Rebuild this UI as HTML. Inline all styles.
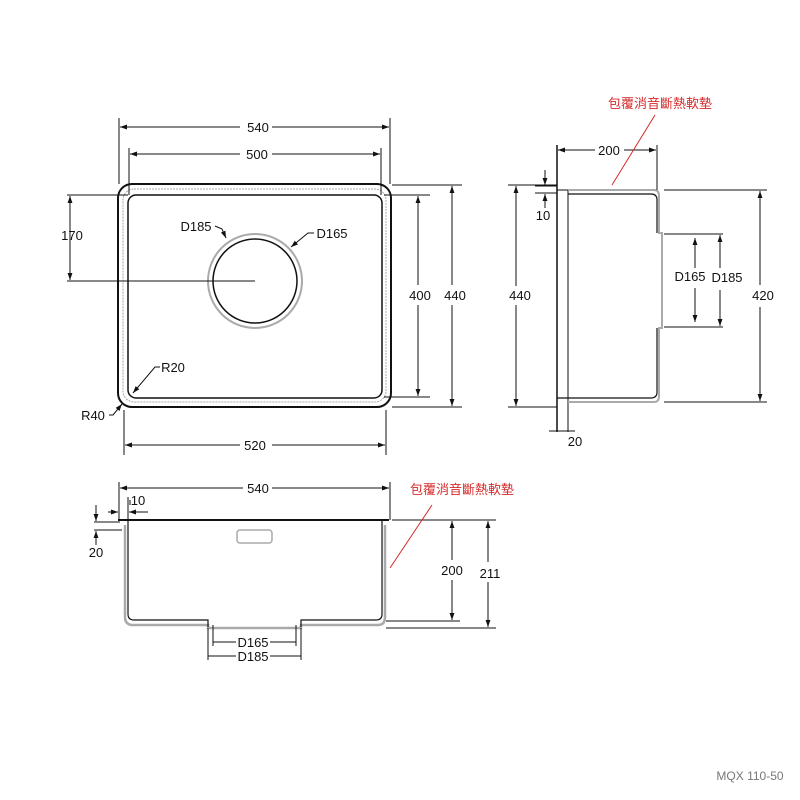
<!DOCTYPE html>
<html><head><meta charset="utf-8"><style>
html,body{margin:0;padding:0;background:#fff;}
svg{display:block}
text{font-family:"Liberation Sans","Noto Sans CJK TC",sans-serif;font-size:13px;fill:#111}
.r{fill:#d62a2a;font-size:13px}
</style></head><body>
<svg width="800" height="800" viewBox="0 0 800 800" xmlns="http://www.w3.org/2000/svg">
<defs>
<marker id="a" viewBox="0 0 10 10" refX="10" refY="5" markerWidth="7" markerHeight="7" orient="auto-start-reverse"><path d="M0,1.5 L10,5 L0,8.5 z" fill="#111"/></marker>
</defs>
<g stroke="#111" stroke-width="1" fill="none">
<!-- TOP VIEW -->
<rect x="118" y="184" width="273" height="223" rx="14" stroke-width="2"/>
<rect x="123" y="189" width="263" height="213" rx="11" stroke="#aaa" stroke-dasharray="2,1"/>
<rect x="128" y="195" width="254" height="203" rx="8" stroke-width="1.5"/>
<circle cx="255" cy="281" r="47" stroke="#aaa" stroke-width="2"/>
<circle cx="255" cy="281" r="42" stroke-width="1.5"/>
<!-- 540 -->
<line x1="119" y1="118" x2="119" y2="184"/><line x1="390" y1="118" x2="390" y2="184"/>
<line x1="120" y1="127" x2="240" y2="127" marker-start="url(#a)"/><line x1="272" y1="127" x2="389" y2="127" marker-end="url(#a)"/>
<!-- 500 -->
<line x1="129" y1="148" x2="129" y2="195"/><line x1="381" y1="148" x2="381" y2="195"/>
<line x1="130" y1="154" x2="240" y2="154" marker-start="url(#a)"/><line x1="272" y1="154" x2="380" y2="154" marker-end="url(#a)"/>
<!-- 170 -->
<line x1="67" y1="195" x2="128" y2="195"/><line x1="67" y1="281" x2="255" y2="281"/>
<line x1="70" y1="196" x2="70" y2="280" marker-start="url(#a)" marker-end="url(#a)"/>
<!-- 400 -->
<line x1="384" y1="195" x2="430" y2="195"/><line x1="384" y1="397" x2="430" y2="397"/>
<line x1="418" y1="196" x2="418" y2="285" marker-start="url(#a)"/><line x1="418" y1="305" x2="418" y2="396" marker-end="url(#a)"/>
<!-- 440 -->
<line x1="392" y1="185" x2="462" y2="185"/><line x1="392" y1="407" x2="462" y2="407"/>
<line x1="452" y1="186" x2="452" y2="285" marker-start="url(#a)"/><line x1="452" y1="305" x2="452" y2="406" marker-end="url(#a)"/>
<!-- 520 -->
<line x1="124" y1="410" x2="124" y2="455"/><line x1="386" y1="410" x2="386" y2="455"/>
<line x1="125" y1="445" x2="240" y2="445" marker-start="url(#a)"/><line x1="272" y1="445" x2="385" y2="445" marker-end="url(#a)"/>
<!-- leaders -->
<path d="M215,226 L222,229 L226,238" marker-end="url(#a)"/>
<path d="M314,233 L308,233 L291,247" marker-end="url(#a)"/>
<path d="M160,367 L155,367 L133,393" marker-end="url(#a)"/>
<path d="M109,415 L113,415 L122,404" marker-end="url(#a)"/>

<!-- SIDE VIEW -->
<line x1="557" y1="145" x2="557" y2="432" stroke-width="1.5"/>
<line x1="568" y1="190" x2="568" y2="432"/>
<path d="M568,190 L654,190 Q659,190 659,196 L659,233 L662,233 L662,328 L659,328 L659,396 Q659,402 654,402 L568,402" stroke="#aaa" stroke-width="2"/>
<path d="M568,194 L651,194 Q657,194 657,200 L657,233 M657,328 L657,392 Q657,398 651,398 L557,398" stroke-width="1.2"/>
<line x1="557" y1="190" x2="568" y2="190"/>
<!-- 200 -->
<line x1="657" y1="145" x2="657" y2="190"/>
<line x1="558" y1="150" x2="595" y2="150" marker-start="url(#a)"/><line x1="624" y1="150" x2="656" y2="150" marker-end="url(#a)"/>
<!-- 10 -->
<line x1="535" y1="186" x2="557" y2="186"/><line x1="535" y1="193" x2="557" y2="193"/>
<line x1="545" y1="170" x2="545" y2="185" marker-end="url(#a)"/><line x1="545" y1="208" x2="545" y2="194" marker-end="url(#a)"/>
<!-- 440 -->
<line x1="508" y1="185" x2="557" y2="185"/><line x1="508" y1="407" x2="557" y2="407"/>
<line x1="516" y1="186" x2="516" y2="286" marker-start="url(#a)"/><line x1="516" y1="305" x2="516" y2="406" marker-end="url(#a)"/>
<!-- 420 -->
<line x1="664" y1="190" x2="767" y2="190"/><line x1="664" y1="402" x2="767" y2="402"/>
<line x1="760" y1="191" x2="760" y2="285" marker-start="url(#a)"/><line x1="760" y1="307" x2="760" y2="401" marker-end="url(#a)"/>
<!-- D165 D185 -->
<line x1="664" y1="234" x2="723" y2="234"/><line x1="664" y1="327" x2="723" y2="327"/>
<line x1="695" y1="238" x2="695" y2="268" marker-start="url(#a)"/><line x1="695" y1="288" x2="695" y2="322" marker-end="url(#a)"/>
<line x1="720" y1="235" x2="720" y2="268" marker-start="url(#a)"/><line x1="720" y1="290" x2="720" y2="326" marker-end="url(#a)"/>
<!-- 20 -->
<line x1="549" y1="431" x2="575" y2="431"/>
<line x1="612" y1="185" x2="655" y2="115" stroke="#d62a2a"/>

<!-- FRONT VIEW -->
<line x1="118" y1="520" x2="389" y2="520" stroke-width="2"/>
<path d="M125,525 L125,617 Q125,625 133,625 L208,625 L208,628 L301,628 L301,625 L378,625 Q385,625 385,617 L385,525" stroke="#aaa" stroke-width="2.5"/>
<path d="M128,520 L128,614 Q128,620 134,620 L208,620 L208,627 M301,627 L301,620 L376,620 Q382,620 382,614 L382,520" stroke-width="1.2"/>
<rect x="237" y="530" width="35" height="13" rx="3" stroke="#aaa" stroke-width="1.5"/>
<!-- 540 -->
<line x1="119" y1="482" x2="119" y2="520"/><line x1="390" y1="482" x2="390" y2="520"/>
<line x1="120" y1="488" x2="243" y2="488" marker-start="url(#a)"/><line x1="272" y1="488" x2="389" y2="488" marker-end="url(#a)"/>
<!-- 10 -->
<path d="M128,497 L128,520"/><line x1="108" y1="512" x2="118" y2="512" marker-end="url(#a)"/><line x1="148" y1="512" x2="129" y2="512" marker-end="url(#a)"/>
<path d="M130,500 L130,505"/>
<!-- 20 -->
<line x1="94" y1="522" x2="120" y2="522"/><line x1="94" y1="530" x2="122" y2="530"/>
<line x1="96" y1="505" x2="96" y2="521" marker-end="url(#a)"/><line x1="96" y1="545" x2="96" y2="531" marker-end="url(#a)"/>
<!-- 200 211 -->
<line x1="392" y1="520" x2="496" y2="520"/><line x1="386" y1="621" x2="460" y2="621"/><line x1="386" y1="628" x2="496" y2="628"/>
<line x1="452" y1="521" x2="452" y2="560" marker-start="url(#a)"/><line x1="452" y1="580" x2="452" y2="620" marker-end="url(#a)"/>
<line x1="488" y1="521" x2="488" y2="562" marker-start="url(#a)"/><line x1="488" y1="582" x2="488" y2="627" marker-end="url(#a)"/>
<!-- D165 D185 -->
<line x1="213" y1="625" x2="213" y2="646"/><line x1="296" y1="625" x2="296" y2="646"/>
<line x1="213" y1="642" x2="236" y2="642"/><line x1="270" y1="642" x2="296" y2="642"/>
<line x1="208" y1="628" x2="208" y2="660"/><line x1="301" y1="628" x2="301" y2="660"/>
<line x1="208" y1="656" x2="236" y2="656"/><line x1="270" y1="656" x2="301" y2="656"/>
<line x1="390" y1="568" x2="432" y2="505" stroke="#d62a2a"/>
</g>
<!-- texts -->
<g text-anchor="middle">
<text x="258" y="132">540</text><text x="257" y="159">500</text>
<text x="72" y="240">170</text><text x="420" y="300">400</text><text x="455" y="300">440</text>
<text x="255" y="450">520</text>
<text x="196" y="231">D185</text><text x="332" y="238">D165</text>
<text x="173" y="372">R20</text><text x="93" y="420">R40</text>
<text x="660" y="108" class="r">包覆消音斷熱軟墊</text>
<text x="609" y="155">200</text><text x="543" y="220">10</text>
<text x="520" y="300">440</text><text x="763" y="300">420</text>
<text x="690" y="281">D165</text><text x="727" y="282">D185</text>
<text x="575" y="446">20</text>
<text x="258" y="493">540</text><text x="138" y="505">10</text><text x="96" y="557">20</text>
<text x="452" y="575">200</text><text x="490" y="578">211</text>
<text x="253" y="647">D165</text><text x="253" y="661">D185</text>
<text x="462" y="494" class="r">包覆消音斷熱軟墊</text>
<text x="750" y="780" style="fill:#777;font-size:12px">MQX 110-50</text>
</g>
</svg>
</body></html>
